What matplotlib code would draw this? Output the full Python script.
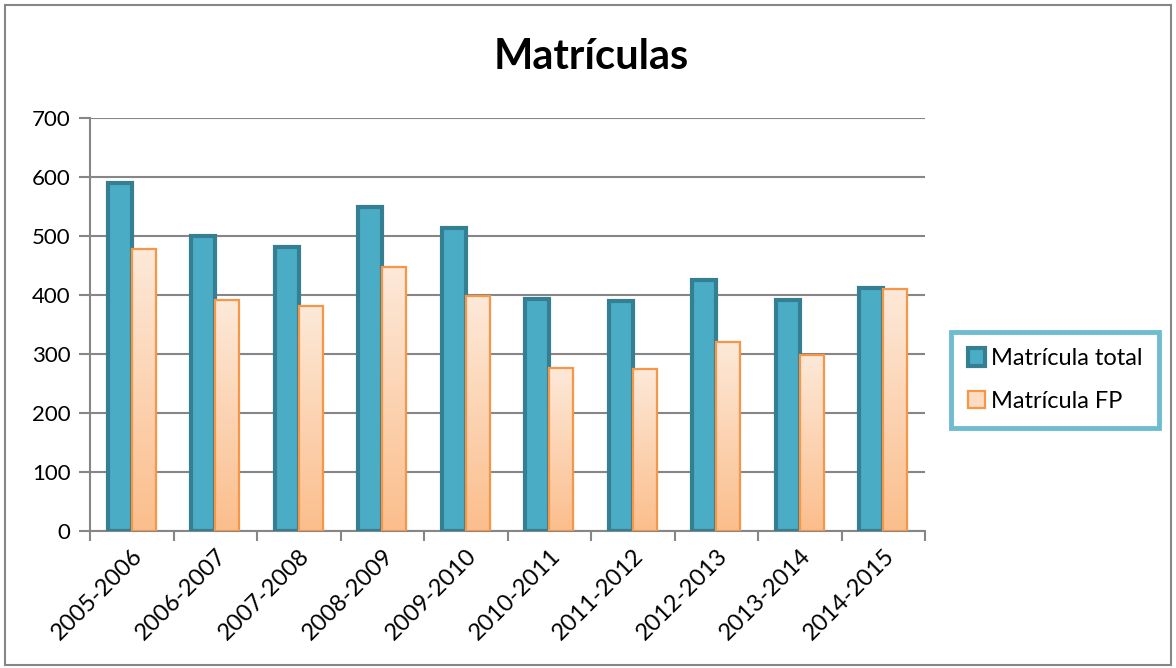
import matplotlib
matplotlib.use('Agg')
import numpy as np
import matplotlib.pyplot as plt
import matplotlib.patches as mpatches
from matplotlib.colors import LinearSegmentedColormap

plt.rcParams['font.family'] = ['Lato', 'DejaVu Sans']

cursos = ['2005-2006', '2006-2007', '2007-2008', '2008-2009', '2009-2010',
          '2010-2011', '2011-2012', '2012-2013', '2013-2014', '2014-2015']
matricula_total = [590, 500, 482, 549, 513, 394, 390, 425, 391, 412]
matricula_fp = [478, 391, 381, 447, 398, 276, 275, 321, 299, 411]

fig = plt.figure(figsize=(11.76, 6.68), dpi=100)
ax = fig.add_axes([90/1176, 1-531/668, 835/1176, 413/668])

# outer chart frame
fig.patches.append(mpatches.Rectangle((5/1176, 3/668), 1166/1176, 660/668,
                                      transform=fig.transFigure, fill=False,
                                      edgecolor='#868686', linewidth=1.5))

x = np.arange(len(cursos))
w = 0.29
bars_t = ax.bar(x - w/2, matricula_total, w, color='#4BACC6',
                edgecolor='#357F92', linewidth=3, zorder=3,
                label='Matrícula total')
bars_f = ax.bar(x + w/2, matricula_fp, w, color='none',
                edgecolor='#F79646', linewidth=1.6, zorder=4,
                label='Matrícula FP')

# gradient fill for the FP bars
cmap = LinearSegmentedColormap.from_list('fp', ['#FBBE8C', '#FDE9D9'])
grad = np.linspace(0, 1, 256).reshape(-1, 1)
for b in bars_f:
    x0, y0 = b.get_x(), b.get_y()
    im = ax.imshow(grad, cmap=cmap, origin='lower', aspect='auto',
                   extent=[x0, x0 + b.get_width(), y0, y0 + b.get_height()],
                   zorder=3.5)
    im.set_clip_path(b)

ax.set_xlim(-0.5, len(cursos) - 0.5)
ax.set_ylim(0, 700)
ax.set_yticks(range(0, 701, 100))
ax.set_xticks(x)
ax.set_xticklabels(cursos, rotation=45, ha='right', rotation_mode='anchor',
                   fontsize=17)
ax.set_xticks(np.arange(-0.5, len(cursos)), minor=True)
ax.tick_params(axis='x', which='major', length=0, pad=10)
ax.tick_params(axis='x', which='minor', length=7, width=1.5, color='#868686')
ax.tick_params(axis='y', length=8, width=1.5, color='#868686', labelsize=16, pad=6)

ax.grid(axis='y', color='#868686', linewidth=1.5, zorder=0)
for s in ['top', 'right']:
    ax.spines[s].set_visible(False)
for s in ['left', 'bottom']:
    ax.spines[s].set_color('#868686')
    ax.spines[s].set_linewidth(1.5)

fig.text(591/1176, 1-57/668, 'Matrículas', ha='center', va='center',
         fontsize=30, fontweight='bold')

leg = fig.legend(handles=[bars_t, bars_f], loc='center left',
                 bbox_to_anchor=(951/1176, 1-380/668), fontsize=17,
                 frameon=True, fancybox=False, handlelength=0.75,
                 handleheight=0.75, labelspacing=0.9, borderpad=0.7,
                 handletextpad=0.25, borderaxespad=0)
leg.get_frame().set_edgecolor('#4BACC6')
leg.get_frame().set_linewidth(3.5)
leg.legend_handles[1].set_facecolor('#FDDCC4')

fig.savefig('out.png', dpi=100)
